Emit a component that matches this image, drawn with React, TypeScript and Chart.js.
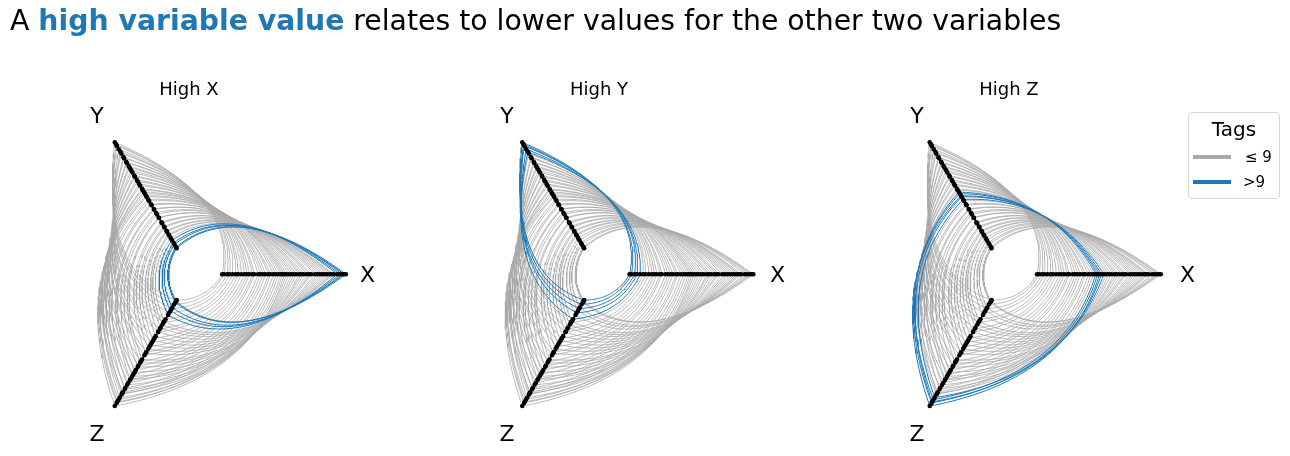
import React, { useEffect, useRef } from "react";
import { Chart, registerables } from "chart.js";

Chart.register(...registerables);

// ---------------- data ----------------
const axisNames = ["X", "Y", "Z"];
const panelTitles = ["High X", "High Y", "High Z"];
const legendTitle = "Tags";
const legendLabels = ["\u2264 9", ">9"];
const tagThreshold = 9;

const xValues = [
  0.0, 0.15, 0.4, 0.6, 0.85, 1.1, 1.3, 1.55, 1.8, 2.0,
  2.2, 2.45, 2.6, 2.9, 3.1, 3.3, 3.5, 3.75, 3.9, 4.15,
  4.35, 4.55, 4.75, 4.9, 5.05, 5.2, 5.4, 5.6, 5.8, 6.0,
  6.25, 6.4, 6.6, 6.85, 7.05, 7.2, 7.5, 7.7, 7.9, 8.1,
  8.3, 8.5, 8.7, 8.85, 9.0, 9.3, 9.5, 9.7, 9.85, 10.0,
];
const yValues = [
  10.0, 9.8, 9.65, 9.35, 9.1, 8.95, 8.6, 8.5, 8.15, 8.05,
  7.75, 7.6, 7.35, 7.15, 6.85, 6.75, 6.45, 6.3, 6.05, 5.9,
  5.6, 5.5, 5.3, 5.15, 4.95, 4.85, 4.6, 4.45, 4.15, 4.05,
  3.7, 3.65, 3.35, 3.2, 2.9, 2.85, 2.45, 2.35, 2.05, 1.95,
  1.65, 1.55, 1.3, 1.2, 0.95, 0.75, 0.5, 0.35, 0.1, 0.0,
];
const zValues = [
  0.0, 0.4, 0.8, 1.2, 1.8, 2.1, 2.7, 3.0, 3.6, 4.0,
  4.4, 4.9, 5.2, 5.8, 6.2, 6.6, 7.0, 7.5, 7.8, 8.3,
  8.7, 8.9, 9.4, 9.7, 10.0, 9.6, 9.2, 8.8, 8.4, 8.0,
  7.5, 7.2, 6.8, 6.3, 5.9, 5.6, 5.0, 4.6, 4.2, 3.8,
  3.4, 3.0, 2.6, 2.3, 2.0, 1.4, 1.0, 0.7, 0.2, 0.1,
];

// ---------------- layout / style ----------------
const W = 1290;
const H = 456;
const panelCentersX = [189, 599, 1009];
const centerY = 275;
const innerR = 30.5;
const outerR = 155;
const axisAngles = [0, 120, 240];
const labelR = [178.5, 184, 184];
const edgePairs = [
  [0, 1],
  [1, 2],
  [2, 0],
];
const grey = "#a9a9a9";
const blue = "#1f77b4";
const font = "'DejaVu Sans', Verdana, sans-serif";

export default function App() {
  const ref = useRef<HTMLCanvasElement>(null);

  useEffect(() => {
    const canvas = ref.current;
    if (!canvas) return;
    const vals = [xValues, yValues, zValues];
    const ranges = vals.map((v) => [Math.min(...v), Math.max(...v)]);
    const radius = (axis: number, v: number) =>
      innerR + ((v - ranges[axis][0]) / (ranges[axis][1] - ranges[axis][0])) * (outerR - innerR);
    const polar = (panel: number, angDeg: number, r: number) => {
      const a = (angDeg * Math.PI) / 180;
      return { x: panelCentersX[panel] + r * Math.cos(a), y: H - centerY + r * Math.sin(a) };
    };

    const datasets: any[] = [];
    const steps = 48;
    for (let p = 0; p < 3; p++) {
      for (let i = 0; i < xValues.length; i++) {
        const hi = vals[p][i] > tagThreshold;
        for (const [a, b] of edgePairs) {
          const r1 = radius(a, vals[a][i]);
          const r2 = radius(b, vals[b][i]);
          const ang1 = axisAngles[a];
          let ang2 = axisAngles[b];
          if (ang2 - ang1 > 180) ang2 -= 360;
          if (ang1 - ang2 > 180) ang2 += 360;
          const P0 = polar(p, ang1, r1);
          const P1 = polar(p, ang2, r2);
          const C = polar(p, (ang1 + ang2) / 2, (r1 + r2) / 2);
          const pts: { x: number; y: number }[] = [];
          for (let s = 0; s <= steps; s++) {
            const t = s / steps;
            const u = 1 - t;
            pts.push({
              x: u * u * P0.x + 2 * u * t * C.x + t * t * P1.x,
              y: u * u * P0.y + 2 * u * t * C.y + t * t * P1.y,
            });
          }
          datasets.push({
            data: pts,
            showLine: true,
            borderColor: hi ? blue : grey,
            borderWidth: hi ? 1 : 0.8,
            pointRadius: 0,
            fill: false,
            order: hi ? 2 : 3,
          });
        }
      }
      for (let a = 0; a < 3; a++) {
        datasets.push({
          data: [polar(p, axisAngles[a], innerR), polar(p, axisAngles[a], outerR)],
          showLine: true,
          borderColor: "#000",
          borderWidth: 1.6,
          pointRadius: 0,
          order: 1,
        });
        datasets.push({
          data: vals[a].map((v) => polar(p, axisAngles[a], radius(a, v))),
          showLine: false,
          pointRadius: 2.3,
          pointBackgroundColor: "#000",
          pointBorderWidth: 0,
          order: 0,
        });
      }
    }

    const chart = new Chart(canvas, {
      type: "scatter",
      data: { datasets },
      options: {
        animation: false,
        responsive: false,
        maintainAspectRatio: false,
        events: [],
        layout: { padding: 0 },
        plugins: { legend: { display: false }, tooltip: { enabled: false }, title: { display: false } },
        scales: {
          x: { type: "linear", min: 0, max: W, display: false },
          y: { type: "linear", min: 0, max: H, display: false },
        },
      },
    });
    return () => chart.destroy();
  }, []);

  const abs = (x: number, y: number, size: number, extra: any = {}) => ({
    position: "absolute" as const,
    left: x,
    top: y,
    transform: "translate(-50%, -50%)",
    fontFamily: font,
    fontSize: size,
    lineHeight: 1,
    whiteSpace: "nowrap" as const,
    color: "#000",
    ...extra,
  });

  return (
    <div style={{ position: "absolute", left: 0, top: 0, width: W, height: H, background: "#fff", overflow: "hidden" }}>
      <canvas ref={ref} width={W} height={H} style={{ position: "absolute", left: 0, top: 0, width: W, height: H }} />
      <div style={{ position: "absolute", left: 10, top: 7, fontFamily: font, fontSize: 28.3, lineHeight: 1, whiteSpace: "nowrap", color: "#000" }}>
        A <span style={{ color: blue, fontWeight: "bold" }}>high variable value</span> relates to lower values for the other two variables
      </div>
      {panelTitles.map((t, p) => (
        <div key={t} style={abs(panelCentersX[p], 89, 18)}>
          {t}
        </div>
      ))}
      {panelCentersX.map((cx, p) =>
        axisNames.map((n, a) => {
          const ang = (axisAngles[a] * Math.PI) / 180;
          return (
            <div key={p + n} style={abs(cx + labelR[a] * Math.cos(ang), centerY - labelR[a] * Math.sin(ang), 22)}>
              {n}
            </div>
          );
        })
      )}
      <div
        style={{
          position: "absolute",
          left: 1188,
          top: 112,
          width: 92,
          height: 87,
          border: "1px solid #d6d6d6",
          borderRadius: 4,
          boxSizing: "border-box",
          background: "rgba(255,255,255,0.8)",
        }}
      />
      <div style={abs(1234, 129, 20)}>{legendTitle}</div>
      <div style={{ position: "absolute", left: 1193, top: 155, width: 38, height: 4, background: grey }} />
      <div style={{ position: "absolute", left: 1193, top: 180, width: 38, height: 4, background: blue }} />
      <div style={{ ...abs(1245, 157, 15), transform: "translate(0, -50%)" }}>{legendLabels[0]}</div>
      <div style={{ ...abs(1243, 182, 15), transform: "translate(0, -50%)" }}>{legendLabels[1]}</div>
    </div>
  );
}
